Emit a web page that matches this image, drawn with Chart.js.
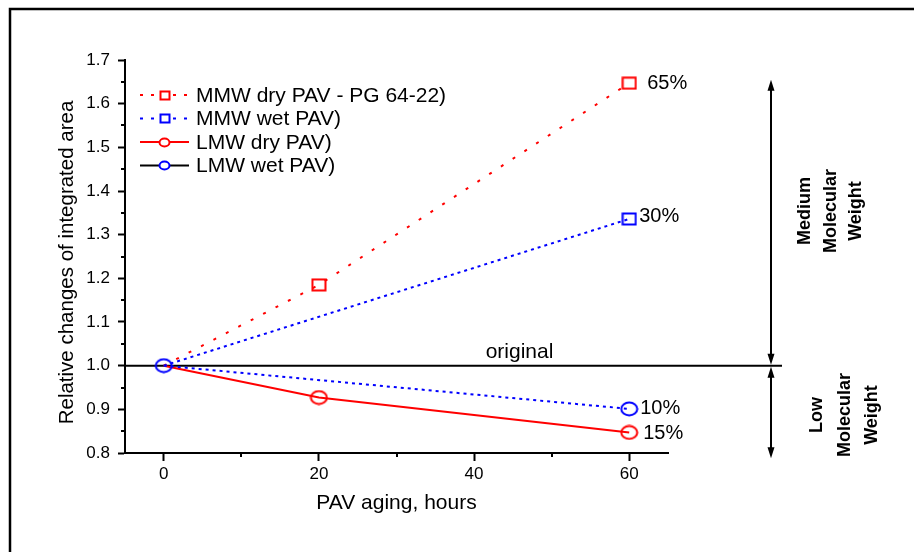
<!DOCTYPE html>
<html>
<head>
<meta charset="utf-8">
<script src="https://cdn.jsdelivr.net/npm/chart.js@4.4.1/dist/chart.umd.min.js"></script>
<style>
  html, body { margin: 0; padding: 0; background: #fff; }
  #wrap { position: relative; width: 914px; height: 552px; }
</style>
</head>
<body>
<div id="wrap"><canvas id="chart" width="914" height="552"></canvas></div>
<script>
// Aging time (hours) and relative integrated-area values per fraction
const hours = [0, 20, 60];
const wetHours = [0, 60];
const mmwDry = [1.0, 1.185, 1.647];
const mmwWet = [1.0, 1.336];
const lmwDry = [1.0, 0.927, 0.847];
const lmwWet = [1.0, 0.901];

const seriesNames = ['MMW dry PAV - PG 64-22)', 'MMW wet PAV)', 'LMW dry PAV)', 'LMW wet PAV)'];
const changeLabels = ['65%', '30%', '15%', '10%'];

const xTicks = [0, 20, 40, 60];
const xMinorTicks = [10, 30, 50];
const yTicks = [0.8, 0.9, 1.0, 1.1, 1.2, 1.3, 1.4, 1.5, 1.6, 1.7];
const yMinorTicks = [0.85, 0.95, 1.05, 1.15, 1.25, 1.35, 1.45, 1.55, 1.65];

const xTitle = 'PAV aging, hours';
const yTitle = 'Relative changes of integrated area';
const baseLabel = 'original';
const mediumLabel = ['Medium', 'Molecular', 'Weight'];
const lowLabel = ['Low', 'Molecular', 'Weight'];

const FONT = "'Liberation Sans', Arial, Helvetica, sans-serif";
const RED = '#ff0000';
const BLUE = '#0000ff';

Chart.defaults.font.family = FONT;
Chart.defaults.color = '#000';

// Hollow marker sprites (slightly wider than tall)
function marker(shape, color, w, h, lw) {
  const c = document.createElement('canvas');
  c.width = w; c.height = h;
  const g = c.getContext('2d');
  g.strokeStyle = color;
  g.lineWidth = lw;
  if (shape === 'circle') {
    g.beginPath();
    g.ellipse(w / 2, h / 2, w / 2 - lw / 2 - 0.5, h / 2 - lw / 2 - 0.5, 0, 0, Math.PI * 2);
    g.stroke();
  } else {
    g.strokeRect(lw / 2 + 0.5, lw / 2 + 0.5, w - lw - 1, h - lw - 1);
  }
  return c;
}
const redSquare = marker('square', RED, 16, 14, 2);
const blueSquare = marker('square', BLUE, 16, 14, 2);
const redCircle = marker('circle', RED, 19, 16, 2);
const blueCircle = marker('circle', BLUE, 19, 16, 2);
const legendMarks = [
  marker('square', RED, 12, 11, 2),
  marker('square', BLUE, 12, 11, 2),
  marker('circle', RED, 13, 11, 2),
  marker('circle', BLUE, 13, 11, 2)
];
const legendLines = [
  { color: RED, dash: [3, 8] },
  { color: BLUE, dash: [3, 8] },
  { color: RED, dash: [] },
  { color: '#000', dash: [] }
];

const pts = (xs, ys) => xs.map((x, i) => ({ x: x, y: ys[i] }));
const hideFirst = ctx => (ctx.dataIndex === 0 ? 0 : 7);

const decor = {
  id: 'decor',
  beforeDraw(chart) {
    const ctx = chart.ctx;
    ctx.save();
    ctx.fillStyle = '#fff';
    ctx.fillRect(0, 0, chart.width, chart.height);
    // outer frame
    ctx.strokeStyle = '#000';
    ctx.lineWidth = 2.5;
    ctx.beginPath();
    ctx.moveTo(10, chart.height + 5);
    ctx.lineTo(10, 9);
    ctx.lineTo(chart.width + 5, 9);
    ctx.stroke();
    ctx.restore();
  },
  beforeDatasetsDraw(chart) {
    const ctx = chart.ctx;
    const y = chart.scales.y.getPixelForValue(1.0);
    ctx.save();
    ctx.strokeStyle = '#000';
    ctx.lineWidth = 2;
    ctx.beginPath();
    ctx.moveTo(chart.chartArea.left, y);
    ctx.lineTo(782, y);
    ctx.stroke();
    ctx.fillStyle = '#000';
    ctx.font = '21px ' + FONT;
    ctx.textAlign = 'center';
    ctx.textBaseline = 'alphabetic';
    ctx.fillText(baseLabel, 519.5, y - 8);
    ctx.restore();
  },
  afterDatasetsDraw(chart) {
    const ctx = chart.ctx;
    const offs = [[18, 0], [10, -2], [14, 1], [11, 0]];
    ctx.save();
    ctx.fillStyle = '#000';
    ctx.font = '20px ' + FONT;
    ctx.textAlign = 'left';
    ctx.textBaseline = 'middle';
    [0, 1, 2, 3].forEach(i => {
      const meta = chart.getDatasetMeta(i);
      const last = meta.data[meta.data.length - 1];
      ctx.fillText(changeLabels[i], last.x + offs[i][0], last.y + offs[i][1]);
    });
    ctx.restore();
  },
  afterDraw(chart) {
    const ctx = chart.ctx;
    const xs = chart.scales.x, ys = chart.scales.y;
    const area = chart.chartArea;
    ctx.save();
    ctx.strokeStyle = '#000';
    ctx.fillStyle = '#000';
    ctx.lineWidth = 2;
    // minor ticks
    ctx.beginPath();
    xMinorTicks.forEach(v => {
      const px = Math.round(xs.getPixelForValue(v));
      ctx.moveTo(px, area.bottom);
      ctx.lineTo(px, area.bottom + 4);
    });
    yMinorTicks.forEach(v => {
      const py = Math.round(ys.getPixelForValue(v));
      ctx.moveTo(area.left, py);
      ctx.lineTo(area.left - 4, py);
    });
    ctx.stroke();

    // y axis title
    ctx.save();
    ctx.translate(67, (area.top + area.bottom) / 2 + 6);
    ctx.rotate(-Math.PI / 2);
    ctx.font = '20.5px ' + FONT;
    ctx.textAlign = 'center';
    ctx.textBaseline = 'middle';
    ctx.fillText(yTitle, 0, 0);
    ctx.restore();

    // double-headed range arrows
    const ax = 771;
    const yBase = ys.getPixelForValue(1.0);
    const arrow = (y1, y2) => {
      ctx.beginPath();
      ctx.moveTo(ax, y1 + 6);
      ctx.lineTo(ax, y2 - 6);
      ctx.stroke();
      ctx.beginPath();
      ctx.moveTo(ax, y1); ctx.lineTo(ax - 3.5, y1 + 11); ctx.lineTo(ax + 3.5, y1 + 11); ctx.closePath();
      ctx.moveTo(ax, y2); ctx.lineTo(ax - 3.5, y2 - 11); ctx.lineTo(ax + 3.5, y2 - 11); ctx.closePath();
      ctx.fill();
    };
    arrow(ys.getPixelForValue(1.655), yBase - 1);
    arrow(yBase + 1, ys.getPixelForValue(0.788));

    // rotated band captions
    const block = (lines, cx, cy, step) => {
      ctx.save();
      ctx.translate(cx, cy);
      ctx.rotate(-Math.PI / 2);
      ctx.font = 'bold 18px ' + FONT;
      ctx.textAlign = 'center';
      ctx.textBaseline = 'middle';
      lines.forEach((t, i) => ctx.fillText(t, 0, (i - 1) * step));
      ctx.restore();
    };
    block(mediumLabel, 831, 211, 25.5);
    block(lowLabel, 845, 415, 27.5);

    // legend
    ctx.font = '21px ' + FONT;
    ctx.textAlign = 'left';
    ctx.textBaseline = 'middle';
    seriesNames.forEach((name, i) => {
      const ly = 95 + i * 23.5;
      ctx.save();
      ctx.strokeStyle = legendLines[i].color;
      ctx.lineWidth = 2;
      ctx.setLineDash(legendLines[i].dash);
      ctx.beginPath();
      ctx.moveTo(140, ly);
      ctx.lineTo(189, ly);
      ctx.stroke();
      ctx.restore();
      const m = legendMarks[i];
      ctx.fillStyle = '#fff';
      ctx.fillRect(164.5 - m.width / 2 + 1, ly - m.height / 2 + 1, m.width - 2, m.height - 2);
      ctx.drawImage(m, Math.round(164.5 - m.width / 2), Math.round(ly - m.height / 2));
      ctx.fillStyle = '#000';
      ctx.fillText(name, 196, ly + 1);
    });
    ctx.restore();
  }
};

new Chart(document.getElementById('chart'), {
  type: 'scatter',
  data: {
    datasets: [
      {
        label: seriesNames[0], data: pts(hours, mmwDry), showLine: true,
        borderColor: RED, borderWidth: 2, borderDash: [3, 11],
        pointStyle: redSquare, pointRadius: hideFirst, order: 3
      },
      {
        label: seriesNames[1], data: pts(wetHours, mmwWet), showLine: true,
        borderColor: BLUE, borderWidth: 2, borderDash: [3, 4],
        pointStyle: blueSquare, pointRadius: hideFirst, order: 2
      },
      {
        label: seriesNames[2], data: pts(hours, lmwDry), showLine: true,
        borderColor: RED, borderWidth: 2,
        pointStyle: redCircle, pointRadius: hideFirst, order: 1
      },
      {
        label: seriesNames[3], data: pts(wetHours, lmwWet), showLine: true,
        borderColor: BLUE, borderWidth: 2, borderDash: [3, 4],
        pointStyle: blueCircle, pointRadius: 7, order: 0
      }
    ]
  },
  options: {
    responsive: false,
    animation: false,
    events: [],
    layout: { padding: { left: 0, top: 60, right: 246, bottom: 0 } },
    plugins: { legend: { display: false }, tooltip: { enabled: false } },
    scales: {
      x: {
        type: 'linear', position: 'bottom', min: -5, max: 65,
        afterBuildTicks: s => { s.ticks = xTicks.map(v => ({ value: v })); },
        afterFit: s => { s.height = 99; },
        ticks: { font: { size: 17 }, color: '#000', padding: 3, maxRotation: 0, autoSkip: false },
        grid: { drawOnChartArea: false, drawTicks: true, tickLength: 8, tickWidth: 2, tickColor: '#000' },
        border: { display: true, color: '#000', width: 2 },
        title: { display: true, text: xTitle, font: { size: 21 }, color: '#000', padding: { top: 0, bottom: 36 } }
      },
      y: {
        type: 'linear', position: 'left', min: 0.8, max: 1.7,
        afterBuildTicks: s => { s.ticks = yTicks.map(v => ({ value: v })); },
        afterFit: s => { s.width = 125; },
        ticks: { font: { size: 17 }, color: '#000', padding: 8, callback: v => Number(v).toFixed(1) },
        grid: { drawOnChartArea: false, drawTicks: true, tickLength: 7, tickWidth: 2, tickColor: '#000' },
        border: { display: true, color: '#000', width: 2 },
        title: { display: false, text: yTitle }
      }
    }
  },
  plugins: [decor]
});
</script>
</body>
</html>
